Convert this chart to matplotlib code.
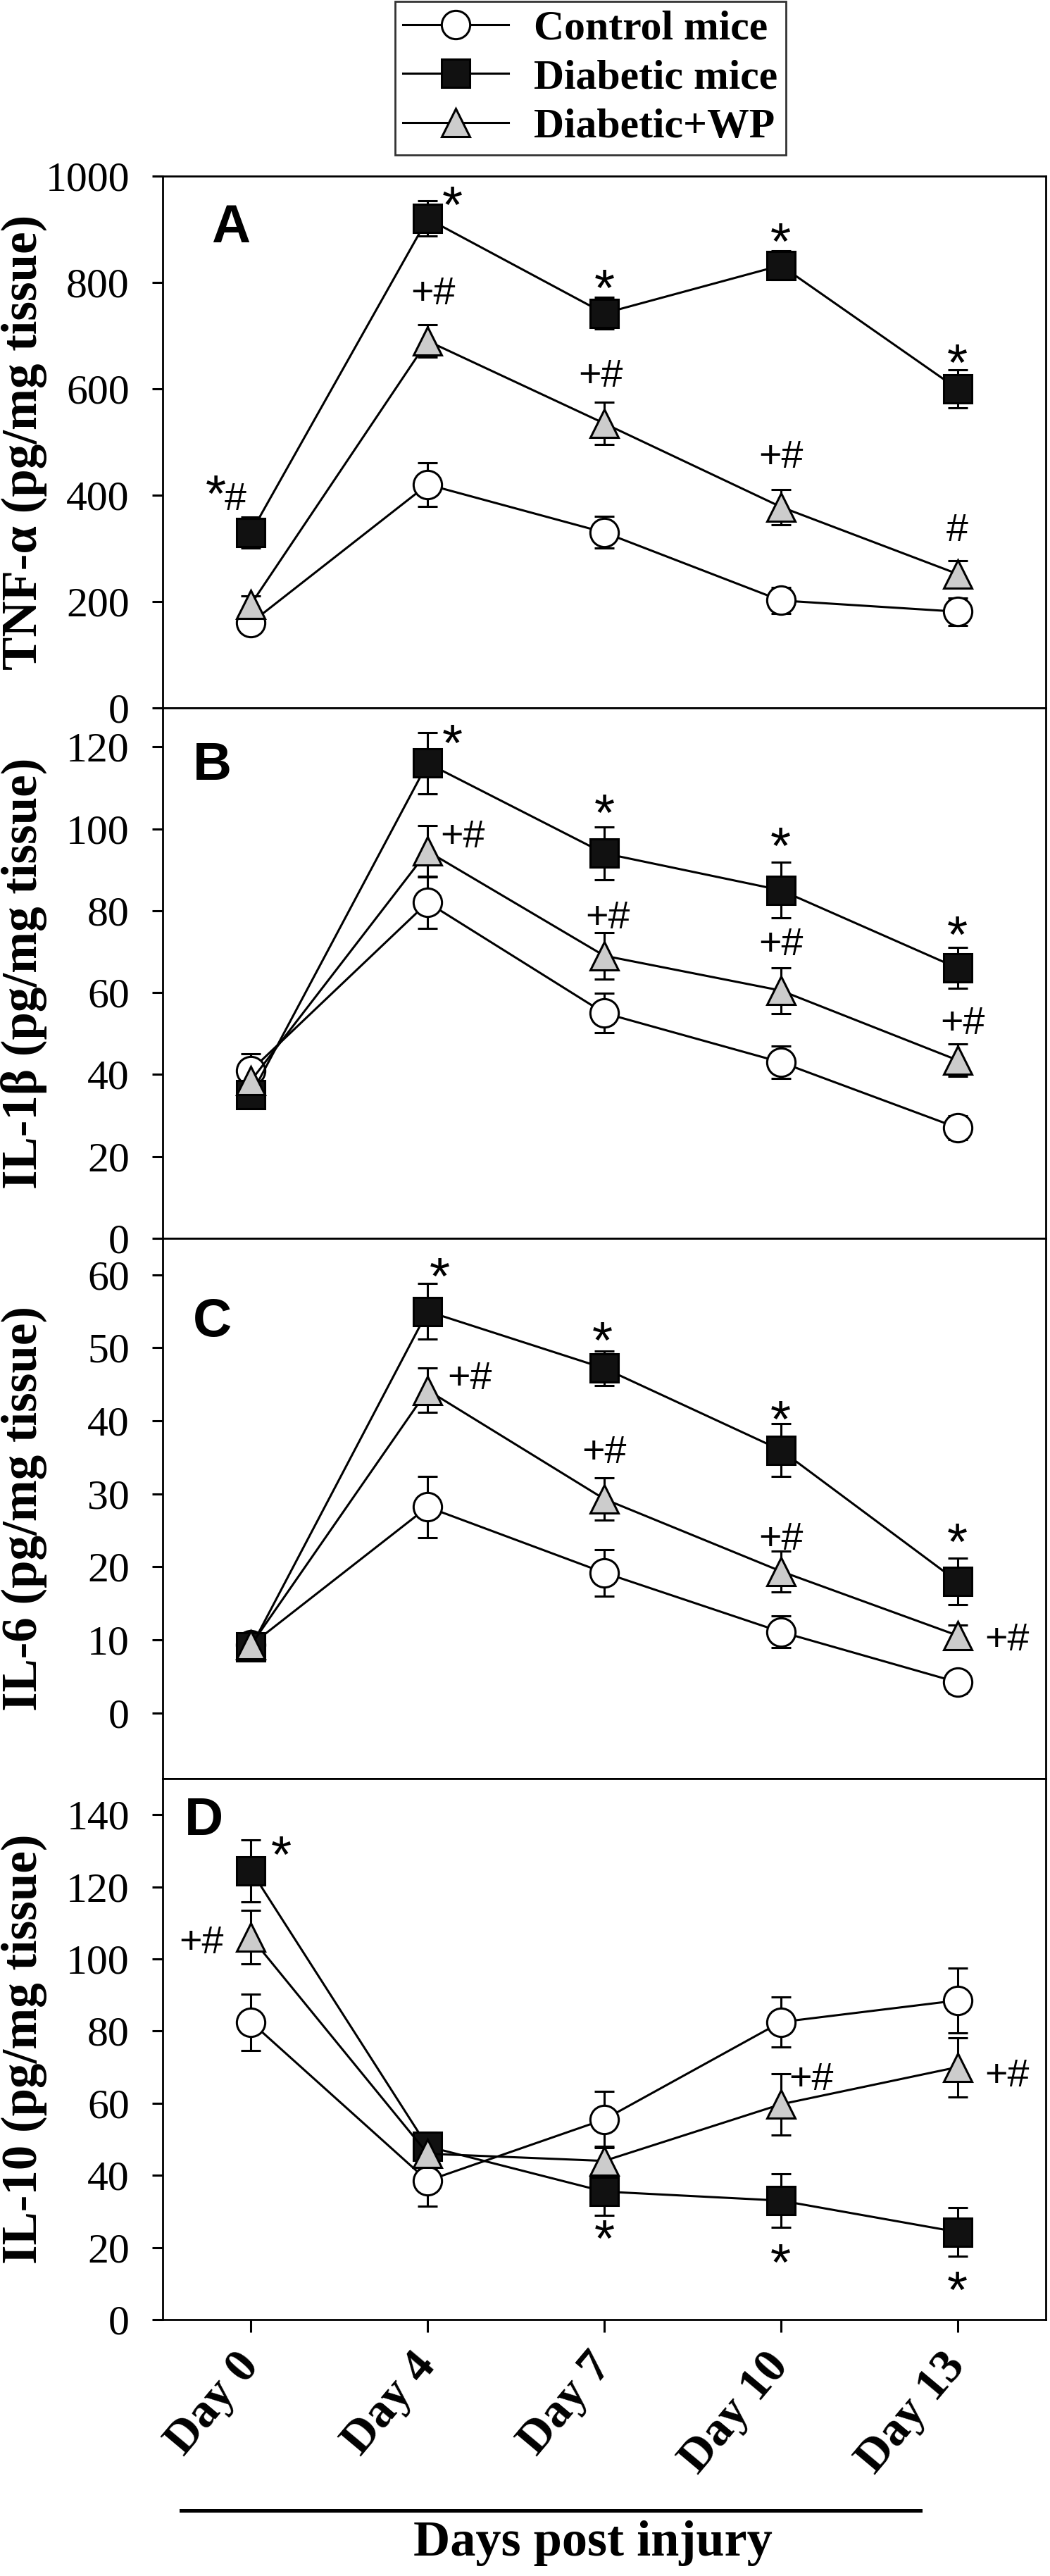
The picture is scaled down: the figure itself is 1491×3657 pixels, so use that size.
import matplotlib
matplotlib.use("Agg")
import matplotlib.pyplot as plt
from matplotlib.lines import Line2D

plt.rcParams["font.family"] = ["Liberation Serif", "DejaVu Serif"]

days = ["Day 0", "Day 4", "Day 7", "Day 10", "Day 13"]
groups = ["Control mice", "Diabetic mice", "Diabetic+WP"]

# panel A: TNF-alpha
tnf_control = [160, 420, 330, 202, 181]
tnf_control_err = [15, 41, 30, 25, 26]
tnf_diabetic = [330, 920, 742, 832, 600]
tnf_diabetic_err = [29, 33, 30, 27, 36]
tnf_wp = [195, 690, 535, 378, 252]
tnf_wp_err = [15, 30, 40, 33, 25]

# panel B: IL-1beta
il1_control = [41, 82, 55, 43, 27]
il1_control_err = [4, 6.4, 4.8, 4, 3]
il1_diabetic = [35, 116, 94, 85, 66]
il1_diabetic_err = [2, 7.4, 6.5, 6.8, 5]
il1_wp = [38.5, 94.5, 69, 60.5, 43.5]
il1_wp_err = [3, 6.2, 5.7, 5.6, 4]

# panel C: IL-6
il6_control = [9.3, 28.2, 19.2, 11.1, 4.2]
il6_control_err = [1, 4.2, 3.2, 2.2, 1.5]
il6_diabetic = [9.0, 55, 47.2, 36, 18]
il6_diabetic_err = [1, 3.8, 2.4, 3.6, 3.2]
il6_wp = [9.3, 44.2, 29.3, 19.4, 10.6]
il6_wp_err = [1, 3, 2.9, 2.8, 1.4]

# panel D: IL-10
il10_control = [82.5, 38.5, 55.5, 82.5, 88.5]
il10_control_err = [7.8, 7, 7.8, 6.9, 9]
il10_diabetic = [124.5, 48, 35.5, 33, 24.3]
il10_diabetic_err = [8.6, 4, 6.5, 7.5, 6.8]
il10_wp = [106, 46, 44, 59.7, 70]
il10_wp_err = [7.4, 4, 4, 8.5, 8.2]

ylabels = ["TNF-\u03b1 (pg/mg tissue)", "IL-1\u03b2 (pg/mg tissue)",
           "IL-6 (pg/mg tissue)", "IL-10 (pg/mg tissue)"]
letters = ["A", "B", "C", "D"]

# significance marks: (x, y, text)
marks_a = [(-0.20, 419, "*"), (-0.09, 391, "#"), (1.14, 962, "*"), (1.03, 778, "+#"),
           (2.0, 806, "*"), (1.98, 623, "+#"), (3.0, 893, "*"),
           (3.0, 470, "+#"), (4.0, 666, "*"), (4.0, 332, "#")]
marks_b = [(1.14, 123, "*"), (1.2, 97.8, "+#"), (2.0, 106, "*"),
           (2.02, 78, "+#"), (3.0, 98, "*"), (3.0, 71.5, "+#"),
           (4.0, 76.3, "*"), (4.03, 52.3, "+#")]
marks_c = [(1.07, 61, "*"), (1.24, 45.7, "+#"), (1.99, 52.2, "*"),
           (2.0, 35.6, "+#"), (3.0, 41.4, "*"), (3.0, 23.7, "+#"),
           (4.0, 24.6, "*"), (4.28, 9.9, "+#")]
marks_d = [(0.17, 131.3, "*"), (-0.28, 104.3, "+#"), (3.17, 66.4, "+#"),
           (4.28, 67.3, "+#"), (2.0, 25, "*"), (3.0, 18.2, "*"),
           (4.0, 10.6, "*")]

panels = [
    (tnf_control, tnf_control_err, tnf_diabetic, tnf_diabetic_err, tnf_wp, tnf_wp_err,
     (0, 1000), range(0, 1001, 200), marks_a),
    (il1_control, il1_control_err, il1_diabetic, il1_diabetic_err, il1_wp, il1_wp_err,
     (0, 129.5), range(0, 121, 20), marks_b),
    (il6_control, il6_control_err, il6_diabetic, il6_diabetic_err, il6_wp, il6_wp_err,
     (-9, 65), range(0, 61, 10), marks_c),
    (il10_control, il10_control_err, il10_diabetic, il10_diabetic_err, il10_wp, il10_wp_err,
     (0, 150), range(0, 141, 20), marks_d),
]

# layout in figure fractions (bottom, height) and panel letter spots
boxes = [(0.72519, 0.20645), (0.51928, 0.20591), (0.30955, 0.20973), (0.09953, 0.21001)]
letter_pos = [(0.0774, 0.9007), (0.0558, 0.8898), (0.0566, 0.8436), (0.0463, 0.9206)]

styles = [
    dict(marker="o", mfc="white"),
    dict(marker="s", mfc="#111111"),
    dict(marker="^", mfc="#cccccc"),
]
sans = ["Liberation Sans", "DejaVu Sans"]

fig = plt.figure(figsize=(14.91, 36.57), dpi=100)
x = list(range(len(days)))
handles = []

for i, (c, ce, d, de, w, we, ylim, yticks, marks) in enumerate(panels):
    ax = fig.add_axes([0.15493, boxes[i][0], 0.84105, boxes[i][1]])
    for j, (vals, errs) in enumerate([(c, ce), (d, de), (w, we)]):
        ax.errorbar(x, vals, yerr=errs, fmt="none", ecolor="black",
                    elinewidth=2.2, capsize=10, capthick=2.2, zorder=2)
        ln, = ax.plot(x, vals, color="black", lw=2.2, ms=29, mec="black",
                      mew=2.2, zorder=3 + j, label=groups[j], **styles[j])
        if i == 0:
            handles.append(ln)
    for mx, my, mt in marks:
        if mt == "*":
            # asterisk glyph sits high in its box, so pull it down a bit
            ax.annotate(mt, (mx, my), xytext=(0, -13), textcoords="offset points",
                        ha="center", va="center", fontsize=54, family=sans, zorder=6)
        else:
            ax.text(mx, my, mt, ha="center", va="center", fontsize=40,
                    family=sans, zorder=6)
    ax.text(letter_pos[i][0], letter_pos[i][1], letters[i], transform=ax.transAxes,
            ha="center", va="center", fontsize=55, fontweight="bold", family=sans)
    ax.set_xlim(-0.5, 4.5)
    ax.set_ylim(*ylim)
    ax.set_yticks(list(yticks))
    ax.set_xticks(x)
    ax.tick_params(axis="y", direction="out", length=11, width=2.2, pad=23, labelsize=43)
    ax.tick_params(axis="x", direction="out", length=13, width=2.2, pad=27)
    for sp in ax.spines.values():
        sp.set_linewidth(2)
    ax.set_ylabel(ylabels[i], fontsize=51, fontweight="bold", va="center")
    ax.yaxis.set_label_coords(-0.157, 0.5)
    if i < 3:
        ax.tick_params(axis="x", labelbottom=False)
    else:
        ax.set_xticklabels(days, rotation=50, ha="right", va="center",
                           rotation_mode="anchor", fontsize=49, fontweight="bold")

leg = fig.legend(handles=handles, loc="upper center", bbox_to_anchor=(0.5621, 0.9995),
                 prop={"weight": "bold", "size": 43}, frameon=True,
                 fancybox=False, edgecolor="black", handlelength=2.5,
                 handletextpad=0.6, borderpad=0.2, labelspacing=0.25,
                 borderaxespad=0, numpoints=1)
leg.get_frame().set_linewidth(2)

fig.add_artist(Line2D([0.1724, 0.8766], [0.0254, 0.0254], color="black", lw=3.6))
fig.text(0.5647, 0.01258, "Days post injury", ha="center", va="center",
         fontsize=52, fontweight="bold")

fig.savefig("out.png", dpi=100, facecolor="white")
